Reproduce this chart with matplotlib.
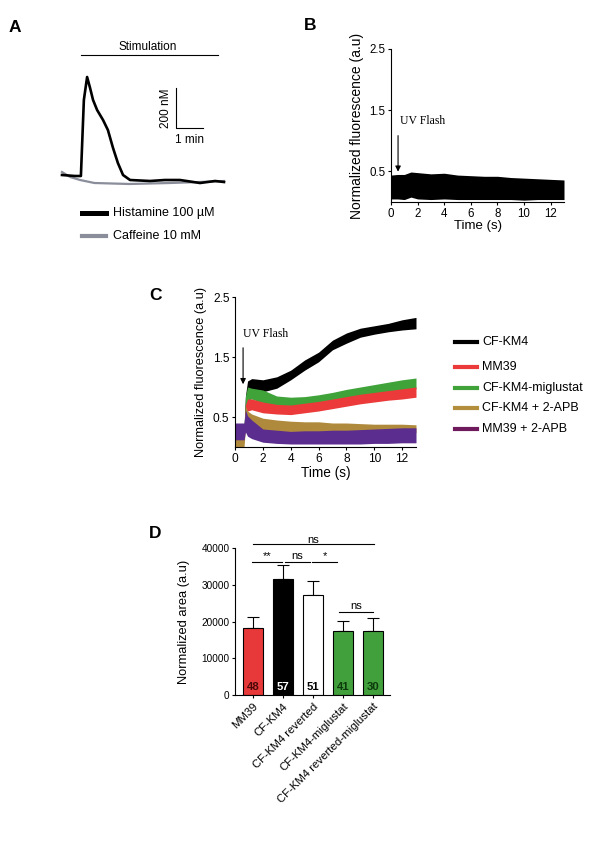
import matplotlib
matplotlib.use("Agg")
import matplotlib.pyplot as plt
from matplotlib.lines import Line2D

plt.rcParams['font.family'] = ['Liberation Sans', 'DejaVu Sans']
plt.rcParams['axes.linewidth'] = 0.8
plt.rcParams['xtick.major.width'] = 0.8
plt.rcParams['ytick.major.width'] = 0.8
plt.rcParams['xtick.major.size'] = 2.5
plt.rcParams['ytick.major.size'] = 2.5

# ---------------- DATA ----------------
# Panel A: cytosolic Ca2+ traces (time in min, concentration in nM)
a_hist_time = [0, 0.48, 0.70, 0.81, 0.93, 1.04, 1.15, 1.30, 1.52, 1.70, 1.89, 2.07,
               2.26, 2.52, 3.26, 3.81, 4.37, 5.11, 5.67, 6.0]
a_histamine = [115, 110, 110, 490, 605, 550, 490, 440, 390, 340, 250, 175,
               115, 90, 85, 90, 90, 75, 85, 80]
a_caff_time = [0, 0.3, 0.67, 1.2, 2.5, 4.0, 5.1, 6.0]
a_caffeine = [130, 105, 90, 75, 70, 75, 80, 85]
a_labels = ["Histamine 100 µM", "Caffeine 10 mM"]

# Panel B: noisy trace envelope (low / high)
b_time = [0, 0.5, 1.0, 1.5, 2, 3, 4, 5, 6, 7, 8, 9, 10, 11, 12, 13]
b_low = [0.05, 0.05, 0.04, 0.08, 0.05, 0.04, 0.05, 0.04, 0.04, 0.04, 0.04, 0.04, 0.03, 0.04, 0.04, 0.04]
b_high = [0.44, 0.45, 0.45, 0.49, 0.48, 0.46, 0.47, 0.44, 0.43, 0.42, 0.42, 0.40, 0.39, 0.38, 0.37, 0.36]

# Panel C: envelopes (low / high) per condition
c_time = [0, 0.65, 0.75, 0.9, 1.2, 2, 3, 4, 5, 6, 7, 8, 9, 10, 11, 12, 13]
c_labels = ["CF-KM4", "MM39", "CF-KM4-miglustat", "CF-KM4 + 2-APB", "MM39 + 2-APB"]
c_cfkm4_low = [0.15, 0.15, 0.55, 0.93, 0.97, 0.92, 0.98, 1.12, 1.28, 1.42, 1.62, 1.73, 1.83, 1.88, 1.92, 1.95, 1.97]
c_cfkm4_high = [0.35, 0.35, 0.85, 1.10, 1.14, 1.12, 1.17, 1.28, 1.45, 1.58, 1.78, 1.90, 1.98, 2.02, 2.06, 2.12, 2.16]
c_mm39_low = [0.10, 0.10, 0.48, 0.60, 0.62, 0.57, 0.55, 0.54, 0.57, 0.60, 0.64, 0.68, 0.72, 0.75, 0.78, 0.80, 0.83]
c_mm39_high = [0.30, 0.30, 0.70, 0.80, 0.80, 0.75, 0.71, 0.70, 0.73, 0.76, 0.80, 0.84, 0.88, 0.91, 0.94, 0.97, 1.00]
c_mig_low = [0.10, 0.10, 0.55, 0.78, 0.80, 0.73, 0.69, 0.67, 0.68, 0.71, 0.75, 0.80, 0.84, 0.88, 0.92, 0.95, 0.97]
c_mig_high = [0.30, 0.30, 0.85, 1.00, 0.98, 0.95, 0.85, 0.83, 0.84, 0.87, 0.91, 0.96, 1.00, 1.04, 1.08, 1.12, 1.15]
c_apb_low = [0.00, 0.00, 0.32, 0.38, 0.33, 0.28, 0.25, 0.24, 0.24, 0.24, 0.23, 0.23, 0.23, 0.23, 0.24, 0.24, 0.24]
c_apb_high = [0.18, 0.18, 0.68, 0.60, 0.55, 0.48, 0.45, 0.43, 0.42, 0.42, 0.40, 0.40, 0.39, 0.38, 0.38, 0.38, 0.37]
c_pur_low = [0.12, 0.12, 0.25, 0.18, 0.14, 0.08, 0.06, 0.05, 0.05, 0.05, 0.05, 0.05, 0.05, 0.06, 0.06, 0.07, 0.07]
c_pur_high = [0.40, 0.40, 0.62, 0.52, 0.45, 0.30, 0.28, 0.26, 0.27, 0.27, 0.28, 0.28, 0.29, 0.30, 0.31, 0.32, 0.32]

# Panel D: bar chart
d_categories = ["MM39", "CF-KM4", "CF-KM4 reverted", "CF-KM4-miglustat", "CF-KM4 reverted-miglustat"]
d_values = [18200, 31700, 27200, 17400, 17500]
d_errors = [3100, 3600, 3700, 2700, 3400]
d_n = ["48", "57", "51", "41", "30"]
d_sig_labels = ["ns", "**", "ns", "*", "ns"]

# ---------------- FIGURE ----------------
W, H = 600, 867
fig = plt.figure(figsize=(W / 100, H / 100), dpi=100)


def ax_px(l, t, r, b):
    return fig.add_axes([l / W, 1 - b / H, (r - l) / W, (b - t) / H])


def fx(px):
    return px / W


def fy(py):
    return 1 - py / H


serif = ['Liberation Serif', 'DejaVu Serif']

# Panel letters
for letter, (px, py) in zip("ABCD", [(15, 27), (310, 25), (155, 296), (155, 533)]):
    fig.text(fx(px), fy(py), letter, fontsize=12.5, fontweight='bold', ha='center', va='center')

# ---------------- Panel A ----------------
axA = ax_px(30, 30, 250, 200)
axA.set_xlim(-1.185, 6.963)
axA.set_ylim(-10, 840)
axA.axis('off')
axA.plot(a_caff_time, a_caffeine, color='#8a8d9a', lw=1.6, solid_joinstyle='round')
axA.plot(a_hist_time, a_histamine, color='black', lw=1.9, solid_joinstyle='round')
axA.plot([0.70, 5.78], [715, 715], color='black', lw=0.8)
axA.text(3.17, 755, "Stimulation", ha='center', va='center', fontsize=8.5)
axA.plot([4.22, 4.22, 5.22], [550, 350, 350], color='black', lw=0.8)
axA.text(3.85, 450, "200 nM", rotation=90, ha='center', va='center', fontsize=8.5)
axA.text(4.74, 290, "1 min", ha='center', va='center', fontsize=8.5)

for (col, lw), lab, py in zip([('black', 3.6), ('#8a8d9a', 3.0)], a_labels, [213, 236]):
    fig.add_artist(Line2D([fx(82), fx(106)], [fy(py), fy(py)], color=col, lw=lw,
                          transform=fig.transFigure))
    fig.text(fx(113), fy(py), lab, fontsize=9, ha='left', va='center')

# ---------------- Panel B ----------------
axB = ax_px(391, 49, 564, 202)
axB.fill_between(b_time, b_low, b_high, color='black', lw=0)
axB.set_xlim(0, 13)
axB.set_ylim(0, 2.5)
axB.set_yticks([0.5, 1.5, 2.5])
axB.set_yticklabels(["0.5", "1.5", "2.5"])
axB.set_xticks([0, 2, 4, 6, 8, 10, 12])
axB.tick_params(labelsize=8.3, pad=1.5)
for s in ['top', 'right']:
    axB.spines[s].set_visible(False)
axB.set_ylabel("Normalized fluorescence (a.u)", fontsize=10, labelpad=4)
axB.set_xlabel("Time (s)", fontsize=9.5, labelpad=0)
axB.annotate("", xy=(0.53, 0.45), xytext=(0.53, 1.13),
             arrowprops=dict(arrowstyle='-|>', color='black', lw=0.8, mutation_scale=8))
axB.text(0.7, 1.22, "UV Flash", family=serif, fontsize=8.5, ha='left', va='bottom')

# ---------------- Panel C ----------------
axC = ax_px(235, 297, 416, 447)
c_colors = ['black', '#ec3a3a', '#3fa33a', '#b08a3c', '#5a2d8e']
c_legend_colors = ['black', '#ec3a3a', '#3fa33a', '#b38e3c', '#6e1a5c']
c_env = [(c_cfkm4_low, c_cfkm4_high), (c_mm39_low, c_mm39_high), (c_mig_low, c_mig_high),
         (c_apb_low, c_apb_high), (c_pur_low, c_pur_high)]
order = [0, 2, 1, 3, 4]
for i in order:
    lo, hi = c_env[i]
    axC.fill_between(c_time, lo, hi, color=c_colors[i], lw=0)
axC.set_xlim(0, 13)
axC.set_ylim(0, 2.5)
axC.set_yticks([0.5, 1.5, 2.5])
axC.set_yticklabels(["0.5", "1.5", "2.5"])
axC.set_xticks([0, 2, 4, 6, 8, 10, 12])
axC.tick_params(labelsize=8.6, pad=1.5)
for s in ['top', 'right']:
    axC.spines[s].set_visible(False)
axC.set_ylabel("Normalized fluorescence (a.u)", fontsize=9.2, labelpad=4)
axC.set_xlabel("Time (s)", fontsize=9.8, labelpad=1)
axC.annotate("", xy=(0.58, 1.0), xytext=(0.58, 1.7),
             arrowprops=dict(arrowstyle='-|>', color='black', lw=0.8, mutation_scale=8))
axC.text(0.55, 1.78, "UV Flash", family=serif, fontsize=8.5, ha='left', va='bottom')

for lab, col, py in zip(c_labels, c_legend_colors, [342, 367, 388, 408, 429]):
    fig.add_artist(Line2D([fx(455), fx(477)], [fy(py), fy(py)], color=col, lw=3,
                          transform=fig.transFigure))
    fig.text(fx(482), fy(py), lab, fontsize=9, ha='left', va='center')

# ---------------- Panel D ----------------
axD = ax_px(235, 548, 390, 695)
xpos = list(range(len(d_categories)))
d_colors = ['#e8393a', 'black', 'white', '#42a03c', '#42a03c']
d_ncolors = ['#4a0808', 'white', 'black', '#0c3a0c', '#0c3a0c']
axD.bar(xpos, d_values, width=0.66, color=d_colors, edgecolor='black', linewidth=0.8, zorder=2)
axD.errorbar(xpos, d_values, yerr=[[0] * len(d_values), d_errors], fmt='none',
             ecolor='black', elinewidth=0.8, capsize=4, capthick=0.8, zorder=1)
for x, n, c in zip(xpos, d_n, d_ncolors):
    axD.text(x, 2300, n, ha='center', va='center', fontsize=8.2, fontweight='bold', color=c, zorder=3)
axD.set_xlim(-0.6, 4.57)
axD.set_ylim(0, 40000)
axD.set_yticks([0, 10000, 20000, 30000, 40000])
axD.set_xticks(xpos)
axD.set_xticklabels(d_categories, rotation=45, ha='right', va='top', rotation_mode='anchor')
axD.tick_params(axis='y', labelsize=7.2, pad=1.5)
axD.tick_params(axis='x', labelsize=8.2, pad=2)
for s in ['top', 'right']:
    axD.spines[s].set_visible(False)
axD.set_ylabel("Normalized area (a.u)", fontsize=9.3, labelpad=8)

# significance brackets: (x0, x1, line_y, label_y)
sig = [(0.0, 4.03, 41100, 42300), (-0.03, 0.97, 36200, 37900), (1.07, 1.9, 36200, 37900),
       (1.97, 2.8, 36200, 37900), (2.87, 4.0, 22600, 24200)]
for (x0, x1, ly, ty), lab in zip(sig, d_sig_labels):
    axD.plot([x0, x1], [ly, ly], color='black', lw=0.8, clip_on=False)
    axD.text((x0 + x1) / 2, ty, lab, ha='center', va='center', fontsize=8, clip_on=False)

fig.savefig("out.png", dpi=100, facecolor='white')
